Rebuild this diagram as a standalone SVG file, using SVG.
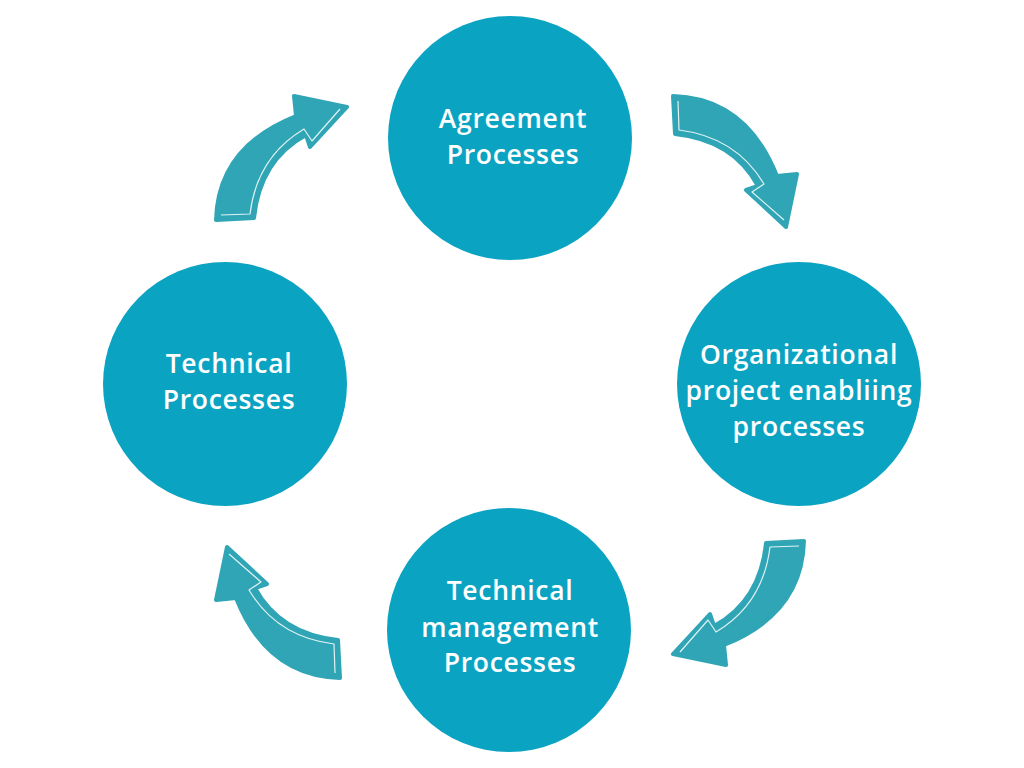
<svg xmlns="http://www.w3.org/2000/svg" width="1024" height="768" viewBox="0 0 1024 768">
<defs>
<style>
.node{fill:#0ba3c2}
.lbl{font-family:"Open Sans","Liberation Sans",sans-serif;font-weight:600;font-size:26.5px;fill:#ffffff;text-anchor:middle;letter-spacing:0.7px}
.arr{fill:#2fa5b5;stroke:#2fa5b5;stroke-width:4;stroke-linejoin:round}
.hl{fill:none;stroke:#ffffff;stroke-width:1.2;opacity:0.85;stroke-linejoin:round}
</style>
<g id="arrowShape">
<path class="arr" d="M673,96 Q746,98 777,176 L797,174 L786,227 L746,190 L758,186 Q733,140 675,134 Z"/>
<path class="hl" d="M678,101 L679,130 Q736,137 764,184 L752,192 L784,220"/>
</g>
</defs>
<rect width="1024" height="768" fill="#ffffff"/>
<g id="connectors">
<use href="#arrowShape"/>
<use href="#arrowShape" transform="translate(4,-4) rotate(90 512 384)"/>
<use href="#arrowShape" transform="translate(-11,6) rotate(180 512 384)"/>
<use href="#arrowShape" transform="translate(-8,-3) rotate(270 512 384)"/>
</g>
<g id="agreement">
<circle class="node" cx="510" cy="138" r="122"/>
<text class="lbl" x="513" y="128">Agreement</text>
<text class="lbl" x="513" y="164">Processes</text>
</g>
<g id="organizational">
<circle class="node" cx="799" cy="384" r="122"/>
<text class="lbl" x="799" y="364">Organizational</text>
<text class="lbl" x="799" y="400">project enabliing</text>
<text class="lbl" x="799" y="436">processes</text>
</g>
<g id="techmgmt">
<circle class="node" cx="509" cy="630" r="122"/>
<text class="lbl" x="510" y="600">Technical</text>
<text class="lbl" x="510" y="637">management</text>
<text class="lbl" x="510" y="672">Processes</text>
</g>
<g id="technical">
<circle class="node" cx="225" cy="384" r="122"/>
<text class="lbl" x="229" y="373">Technical</text>
<text class="lbl" x="229" y="409">Processes</text>
</g>
</svg>
